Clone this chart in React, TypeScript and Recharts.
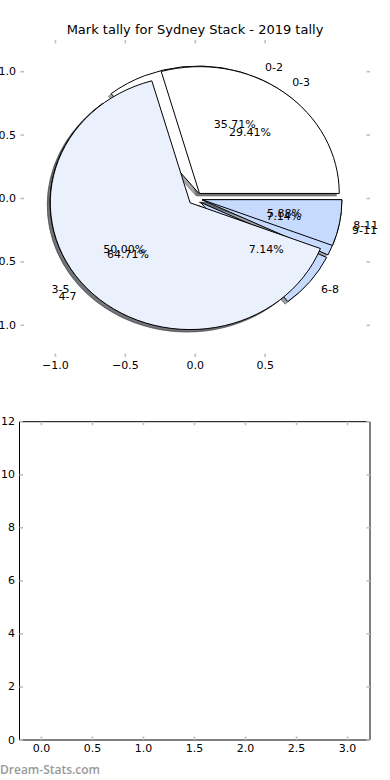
import React from 'react';
import { PieChart, Pie, ScatterChart, Scatter, XAxis, YAxis } from 'recharts';

// ---------- data ----------
const TITLE = 'Mark tally for Sydney Stack - 2019 tally';
const binsA = ['0-2', '3-5', '6-8', '9-11'];
const countsA = [5, 7, 1, 1];
const binsB = ['0-3', '4-7', '8-11'];
const countsB = [5, 11, 1];
const colorsA = ['#ffffff', '#eaf0fc', '#c6dafe', '#c6dafe'];
const colorsB = ['#ffffff', '#eaf0fc', '#c6dafe'];
const pieTicksX = [-1, -0.5, 0, 0.5];
const pieTicksY = [-1, -0.5, 0, 0.5, 1];
const gridTicksX = [0, 0.5, 1, 1.5, 2, 2.5, 3];
const gridTicksY = [0, 2, 4, 6, 8, 10, 12];
const emptyPoints: { x: number; y: number }[] = [];
const WATERMARK = 'Dream-Stats.com';

const dataA = binsA.map((name, i) => ({ name, value: countsA[i] }));
const dataB = binsB.map((name, i) => ({ name, value: countsB[i] }));

// ---------- layout / style ----------
const FONT = "'DejaVu Sans', sans-serif";
const TICK_COLOR = '#c0c0c0';
const TICK_LEN = 3.5;
const TICK_W = 1.6;
const W = 390;
const AX = 1; // axis band thickness

// top (pie) axes box
const TOP = { l: 20.5, r: 370, t: 40, b: 357 };
const PIE_LIM = 1.25;
const X_UNIT = (TOP.r - TOP.l) / (2 * PIE_LIM);
const Y_UNIT = (TOP.b - TOP.t) / (2 * PIE_LIM);
const ASPECT = Y_UNIT / X_UNIT;
const PIE_CX = (TOP.l + TOP.r) / 2;
const PIE_CY = (TOP.t + TOP.b) / 2;

// bottom axes box (chart placed at top offset 400)
const BOT_TOP = 400;
const BOT = { l: 19.5, r: 370, t: 421.7, b: 740 };
const BOT_XDOM: [number, number] = [-0.215, 3.22];
const BOT_YDOM: [number, number] = [0, 12];

const EXPLODE = 0.05;
const SHADOW = 0.02;
const LABEL_DIST = 1.1;
const PCT_DIST = 0.6;
const RAD = Math.PI / 180;

const fmt1 = (v: number) => (v < 0 ? '\u2212' : '') + Math.abs(v).toFixed(1);
const fmtInt = (v: number) => String(v);

function hexToRgb(h: string) {
  const n = parseInt(h.slice(1), 16);
  return [(n >> 16) & 255, (n >> 8) & 255, n & 255];
}

function wedgeGeom(p: any) {
  const rx = p.outerRadius;
  const ry = rx * ASPECT;
  const m = p.midAngle * RAD;
  const vx = p.cx + EXPLODE * rx * Math.cos(m);
  const vy = p.cy - EXPLODE * ry * Math.sin(m);
  const a0 = p.startAngle * RAD;
  const a1 = p.endAngle * RAD;
  const x0 = vx + rx * Math.cos(a0);
  const y0 = vy - ry * Math.sin(a0);
  const x1 = vx + rx * Math.cos(a1);
  const y1 = vy - ry * Math.sin(a1);
  const large = Math.abs(p.endAngle - p.startAngle) > 180 ? 1 : 0;
  const d = `M${vx},${vy}L${x0},${y0}A${rx},${ry} 0 ${large} 0 ${x1},${y1}Z`;
  return { d, rx, ry, vx, vy, m };
}

const makeShadow = (colors: string[]) => (p: any) => {
  const g = wedgeGeom(p);
  const [r, gg, b] = hexToRgb(colors[p.index]);
  const c = `rgba(${Math.round(r * 0.3)},${Math.round(gg * 0.3)},${Math.round(b * 0.3)},0.5)`;
  return (
    <path
      d={g.d}
      transform={`translate(${-SHADOW * g.rx},${SHADOW * g.ry})`}
      fill={c}
      stroke={c}
      strokeWidth={1}
    />
  );
};

const makeWedge = (colors: string[]) => (p: any) => {
  const g = wedgeGeom(p);
  return <path d={g.d} fill={colors[p.index]} stroke="#000" strokeWidth={1} strokeLinejoin="round" />;
};

const renderText = (p: any) => {
  const g = wedgeGeom(p);
  const c = Math.cos(g.m);
  const s = Math.sin(g.m);
  const lx = g.vx + LABEL_DIST * g.rx * c;
  const ly = g.vy - LABEL_DIST * g.ry * s;
  const px = g.vx + PCT_DIST * g.rx * c;
  const py = g.vy - PCT_DIST * g.ry * s;
  return (
    <g>
      <text x={px} y={py} textAnchor="middle" dominantBaseline="central" fontSize={11} fontFamily={FONT} fill="#000">
        {(p.percent * 100).toFixed(2)}%
      </text>
      <text x={lx} y={ly} textAnchor={lx > p.cx ? 'start' : 'end'} dominantBaseline="central" fontSize={11} fontFamily={FONT} fill="#000">
        {p.name}
      </text>
    </g>
  );
};

// ---------- tick renderers ----------
const mark = (x1: number, y1: number, x2: number, y2: number) => (
  <line x1={x1} y1={y1} x2={x2} y2={y2} stroke={TICK_COLOR} strokeWidth={TICK_W} />
);

const BottomTick = (fmt: (v: number) => string) => (props: any) => {
  const { x, y, payload } = props;
  return (
    <g>
      {mark(x, y, x, y - TICK_LEN)}
      <text x={x} y={y + 8.4} textAnchor="middle" dominantBaseline="central" fontSize={11} fontFamily={FONT} fill="#000">
        {fmt(payload.value)}
      </text>
    </g>
  );
};
const LeftTick = (fmt: (v: number) => string) => (props: any) => {
  const { x, y, payload } = props;
  return (
    <g>
      {mark(x, y, x + TICK_LEN, y)}
      <text x={x - 4.5} y={y} textAnchor="end" dominantBaseline="central" fontSize={11} fontFamily={FONT} fill="#000">
        {fmt(payload.value)}
      </text>
    </g>
  );
};
const TopMark = (props: any) => {
  const { x, y } = props;
  return mark(x, y, x, y + TICK_LEN);
};
const RightMark = (props: any) => {
  const { x, y } = props;
  return mark(x, y, x - TICK_LEN, y);
};

function FrameAxes(props: {
  xDom: [number, number];
  yDom: [number, number];
  xTicks: number[];
  yTicks: number[];
  xFmt: (v: number) => string;
  yFmt: (v: number) => string;
  frame: boolean;
  box: { l: number; r: number; t: number; b: number };
  offsetTop: number;
  height: number;
}) {
  const { xDom, yDom, xTicks, yTicks, xFmt, yFmt, frame, box, offsetTop, height } = props;
  const line = frame ? { stroke: '#000', strokeWidth: 1 } : false;
  const common = {
    type: 'number' as const,
    allowDataOverflow: true,
    tickSize: 0,
    tickMargin: 0,
    tickLine: false,
    axisLine: line,
    interval: 0 as const,
  };
  return (
    <ScatterChart
      width={W}
      height={height}
      margin={{
        top: box.t - offsetTop - AX,
        left: box.l - AX,
        right: W - box.r - AX,
        bottom: height - (box.b - offsetTop) - AX,
      }}
    >
      <XAxis {...common} xAxisId="b" dataKey="x" domain={xDom} ticks={xTicks} height={AX} tick={BottomTick(xFmt)} />
      <XAxis {...common} xAxisId="t" dataKey="x" orientation="top" domain={xDom} ticks={xTicks} height={AX} tick={TopMark} />
      <YAxis {...common} yAxisId="l" dataKey="y" domain={yDom} ticks={yTicks} width={AX} tick={LeftTick(yFmt)} />
      <YAxis {...common} yAxisId="r" dataKey="y" orientation="right" domain={yDom} ticks={yTicks} width={AX} tick={RightMark} />
      <Scatter data={emptyPoints} xAxisId="b" yAxisId="l" isAnimationActive={false} />
      <Scatter data={emptyPoints} xAxisId="t" yAxisId="r" isAnimationActive={false} />
    </ScatterChart>
  );
}

export default function App() {
  const pieCommon = {
    dataKey: 'value',
    nameKey: 'name',
    cx: PIE_CX,
    cy: PIE_CY,
    innerRadius: 0,
    outerRadius: X_UNIT,
    startAngle: 0,
    endAngle: 360,
    isAnimationActive: false,
    fill: 'none',
    stroke: 'none',
    labelLine: false,
  };
  return (
    <div style={{ position: 'absolute', left: 0, top: 0, width: W, height: 780, background: '#fff', overflow: 'hidden' }}>
      {/* pie axes ticks */}
      <div style={{ position: 'absolute', left: 0, top: 0 }}>
        <FrameAxes
          xDom={[-PIE_LIM, PIE_LIM]}
          yDom={[-PIE_LIM, PIE_LIM]}
          xTicks={pieTicksX}
          yTicks={pieTicksY}
          xFmt={fmt1}
          yFmt={fmt1}
          frame={false}
          box={TOP}
          offsetTop={0}
          height={400}
        />
      </div>

      {/* pies */}
      <div style={{ position: 'absolute', left: 0, top: 0 }}>
        <PieChart width={W} height={400} margin={{ top: 0, left: 0, right: 0, bottom: 0 }}>
          <Pie {...pieCommon} data={dataA} label={makeShadow(colorsA)} />
          <Pie {...pieCommon} data={dataB} label={makeShadow(colorsB)} />
          <Pie {...pieCommon} data={dataA} label={makeWedge(colorsA)} />
          <Pie {...pieCommon} data={dataB} label={makeWedge(colorsB)} />
          <Pie {...pieCommon} data={dataA} label={renderText} />
          <Pie {...pieCommon} data={dataB} label={renderText} />
        </PieChart>
      </div>

      {/* title */}
      <div
        style={{
          position: 'absolute',
          left: 0,
          top: 22,
          width: W,
          textAlign: 'center',
          fontFamily: FONT,
          fontSize: 13,
          lineHeight: '16px',
          color: '#000',
        }}
      >
        {TITLE}
      </div>

      {/* bottom empty axes */}
      <div style={{ position: 'absolute', left: 0, top: BOT_TOP }}>
        <FrameAxes
          xDom={BOT_XDOM}
          yDom={BOT_YDOM}
          xTicks={gridTicksX}
          yTicks={gridTicksY}
          xFmt={fmt1}
          yFmt={fmtInt}
          frame={true}
          box={BOT}
          offsetTop={BOT_TOP}
          height={380}
        />
      </div>

      {/* watermark */}
      <div
        style={{
          position: 'absolute',
          left: 0,
          top: 762,
          fontFamily: "'Open Sans', sans-serif",
          fontWeight: 600,
          fontSize: 12,
          lineHeight: '16px',
          color: '#999',
        }}
      >
        {WATERMARK}
      </div>
    </div>
  );
}
